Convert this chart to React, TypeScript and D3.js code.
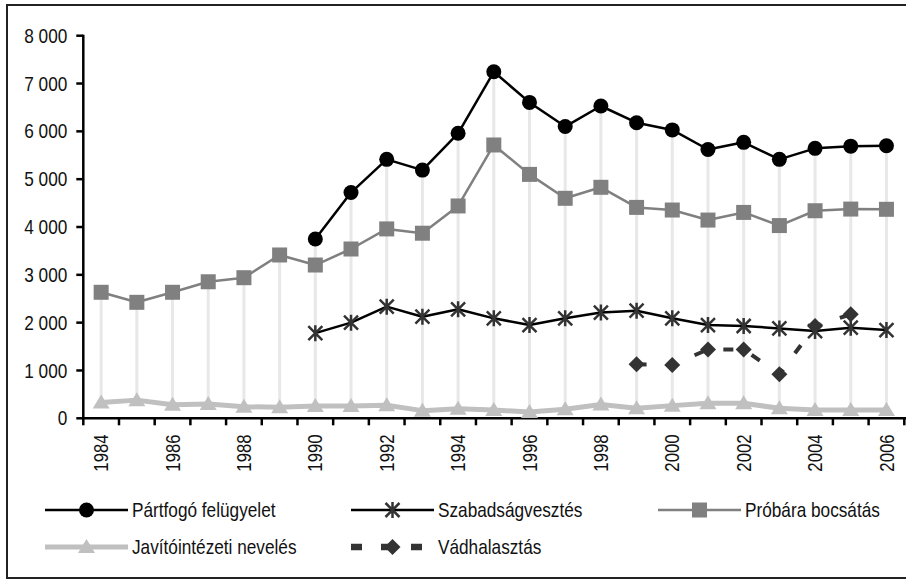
import React, { useEffect } from 'react';
import * as d3 from 'd3';

const years = d3.range(1984, 2007).map(String);
const yTicks = [0, 1000, 2000, 3000, 4000, 5000, 6000, 7000, 8000];

// values, null = no data
const partfogo = [null, null, null, null, null, null, 3750, 4720, 5415, 5190, 5960, 7245, 6605, 6100, 6530, 6180, 6030, 5620, 5770, 5415, 5645, 5690, 5700];
const szabadsag = [null, null, null, null, null, null, 1780, 2000, 2335, 2125, 2280, 2090, 1950, 2090, 2210, 2250, 2090, 1950, 1930, 1880, 1825, 1895, 1845];
const probara = [2635, 2425, 2635, 2855, 2940, 3415, 3205, 3540, 3960, 3870, 4440, 5715, 5100, 4600, 4830, 4410, 4355, 4145, 4305, 4030, 4340, 4375, 4370];
const javito = [330, 380, 285, 300, 243, 230, 257, 257, 272, 160, 200, 175, 130, 190, 290, 210, 265, 313, 313, 210, 175, 175, 175];
const vadhalasztas = [null, null, null, null, null, null, null, null, null, null, null, null, null, null, null, 1130, 1115, 1440, 1440, 920, 1930, 2175, null];

type Marker = 'circle' | 'star' | 'square' | 'triangle' | 'diamond';

interface Series {
  name: string;
  values: (number | null)[];
  stroke: string;
  width: number;
  dash?: string;
  marker: Marker;
  markerColor: string;
}

const series: Series[] = [
  { name: 'Pártfogó felügyelet', values: partfogo, stroke: '#000', width: 2.5, marker: 'circle', markerColor: '#000' },
  { name: 'Szabadságvesztés', values: szabadsag, stroke: '#000', width: 2.5, marker: 'star', markerColor: '#333' },
  { name: 'Próbára bocsátás', values: probara, stroke: '#808080', width: 2.5, marker: 'square', markerColor: '#808080' },
  { name: 'Javítóintézeti nevelés', values: javito, stroke: '#c0c0c0', width: 5, marker: 'triangle', markerColor: '#c0c0c0' },
  { name: 'Vádhalasztás', values: vadhalasztas, stroke: '#333', width: 4, dash: '10 20', marker: 'diamond', markerColor: '#333' },
];

// no narrow face installed, so Liberation Sans gets squeezed horizontally
const FONT = '"Liberation Sans", Arial, sans-serif';
const SQUEEZE = 0.82;

const W = 906;
const H = 581;
const left = 83.3;
const right = 904.3;
const top = 35.7;
const bottom = 418.3;

const fmt = d3.formatLocale({ decimal: ',', thousands: ' ', grouping: [3], currency: ['', ''] }).format(',');

function drawMarker(type: Marker, x: number, y: number, color: string, key: string) {
  switch (type) {
    case 'circle':
      return <circle key={key} cx={x} cy={y} r={7.5} fill={color} />;
    case 'square':
      return <rect key={key} x={x - 7.5} y={y - 7.5} width={15} height={15} fill={color} />;
    case 'triangle':
      return <path key={key} d={`M${x},${y - 8}L${x + 8.5},${y + 6}L${x - 8.5},${y + 6}Z`} fill={color} />;
    case 'diamond':
      return <path key={key} d={`M${x},${y - 8}L${x + 8},${y}L${x},${y + 8}L${x - 8},${y}Z`} fill={color} />;
    case 'star':
      return (
        <path
          key={key}
          d={`M${x},${y - 8}L${x},${y + 8}M${x - 7},${y - 7}L${x + 7},${y + 7}M${x - 7},${y + 7}L${x + 7},${y - 7}`}
          stroke={color}
          strokeWidth={2.5}
          fill="none"
        />
      );
  }
}

export default function App() {
  useEffect(() => {
    document.body.style.margin = '0';
  }, []);

  const x = d3.scaleBand<string>().domain(years).range([left, right]).padding(0);
  const y = d3.scaleLinear().domain([0, 8000]).range([bottom, top]);
  const cx = (yr: string) => (x(yr) as number) + x.bandwidth() / 2;

  const line = d3
    .line<number | null>()
    .defined((d) => d != null)
    .x((_, i) => cx(years[i]))
    .y((d) => y(d as number));

  // high-low lines
  const hiLo = years.map((yr, i) => {
    const vals = series.map((s) => s.values[i]).filter((v): v is number => v != null);
    return { yr, hi: d3.max(vals) as number, lo: d3.min(vals) as number };
  });

  const legendItems = [
    { s: series[0], lx: 45, ly: 510 },
    { s: series[1], lx: 351, ly: 510 },
    { s: series[2], lx: 658, ly: 510 },
    { s: series[3], lx: 45, ly: 547 },
    { s: series[4], lx: 351, ly: 547 },
  ];

  return (
    <svg width={W} height={H} style={{ position: 'fixed', left: 0, top: 0, display: 'block' }} fontFamily={FONT}>
      <rect x={0} y={0} width={W} height={H} fill="#fff" />
      <rect x={7} y={5} width={W + 20} height={573} fill="#fff" stroke="#222" strokeWidth={2} />

      {/* drop lines */}
      <g stroke="#e8e8e8" strokeWidth={3}>
        {hiLo.map((d) => (
          <line key={d.yr} x1={cx(d.yr)} x2={cx(d.yr)} y1={y(d.hi)} y2={y(d.lo)} />
        ))}
      </g>

      {/* y axis */}
      <g>
        <line x1={left} x2={left} y1={top - 1} y2={bottom + 1} stroke="#000" strokeWidth={2.5} />
        {yTicks.map((t) => (
          <g key={t}>
            <line x1={left - 7} x2={left} y1={y(t)} y2={y(t)} stroke="#000" strokeWidth={2.5} />
            <text
              transform={`translate(${left - 16},${y(t)}) scale(${SQUEEZE},1)`}
              textAnchor="end"
              dominantBaseline="central"
              fontSize={21}
              fill="#111"
            >
              {fmt(t)}
            </text>
          </g>
        ))}
      </g>

      {/* x axis */}
      <g>
        <line x1={left} x2={right + 2} y1={bottom} y2={bottom} stroke="#000" strokeWidth={2.5} />
        {years.concat(['end']).map((yr) => {
          const px = yr === 'end' ? right : (x(yr) as number);
          return <line key={yr} x1={px} x2={px} y1={bottom} y2={bottom + 7} stroke="#000" strokeWidth={2.5} />;
        })}
        {years
          .filter((yr) => +yr % 2 === 0)
          .map((yr) => (
            <text
              key={yr}
              transform={`translate(${cx(yr)},${bottom + 16}) rotate(-90) scale(${SQUEEZE},1)`}
              textAnchor="end"
              dominantBaseline="central"
              fontSize={20.5}
              fill="#111"
            >
              {yr}
            </text>
          ))}
      </g>

      {/* series lines */}
      {series.map((s) => (
        <path
          key={s.name}
          d={line(s.values) || ''}
          fill="none"
          stroke={s.stroke}
          strokeWidth={s.width}
          strokeDasharray={s.dash}
          strokeLinejoin="round"
        />
      ))}

      {/* markers */}
      {series.map((s) => (
        <g key={s.name}>
          {s.values.map((v, i) => (v == null ? null : drawMarker(s.marker, cx(years[i]), y(v), s.markerColor, `${s.name}-${i}`)))}
        </g>
      ))}

      {/* legend */}
      {legendItems.map(({ s, lx, ly }) => (
        <g key={s.name}>
          <line
            x1={lx}
            x2={lx + 83}
            y1={ly}
            y2={ly}
            stroke={s.stroke}
            strokeWidth={s.dash ? 6.5 : s.width}
            strokeDasharray={s.dash ? '11 19' : undefined}
          />
          {drawMarker(s.marker, lx + 41.5, ly, s.markerColor, 'm')}
          <text
            transform={`translate(${lx + 87},${ly}) scale(${SQUEEZE},1)`}
            dominantBaseline="central"
            fontSize={21}
            fill="#111"
          >
            {s.name}
          </text>
        </g>
      ))}
    </svg>
  );
}
